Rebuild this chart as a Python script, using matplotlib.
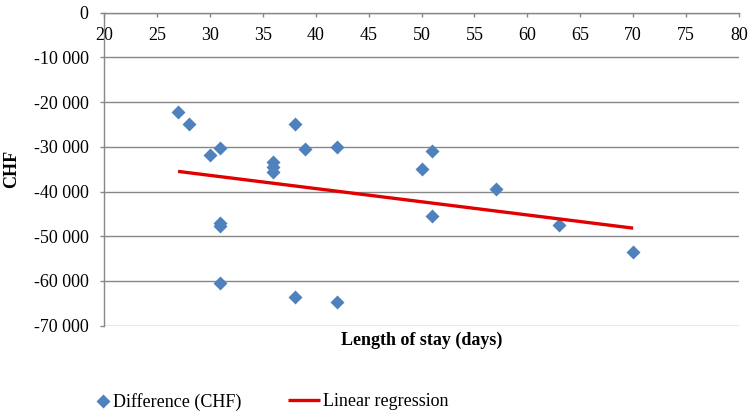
import matplotlib
matplotlib.use("Agg")
import matplotlib.pyplot as plt
from matplotlib.ticker import FuncFormatter

# Data
length_of_stay = [27, 28, 30, 31, 31, 31, 31, 36, 36, 36, 38, 38, 39, 42, 42, 50, 51, 51, 57, 63, 70]
difference_chf = [-22300, -24800, -31800, -30300, -47100, -47800, -60400, -33300, -34600, -35600,
                  -25000, -63500, -30500, -30000, -64700, -34900, -30900, -45500, -39500, -47400, -53600]
regression_x = [27, 70]
regression_y = [-35500, -48200]

x_ticks = list(range(20, 81, 5))
y_ticks = list(range(-70000, 1, 10000))

plt.rcParams['font.family'] = ['Liberation Serif', 'DejaVu Serif']

W, H = 750, 420
fig = plt.figure(figsize=(W / 100, H / 100), dpi=100)
ax = fig.add_axes([104 / W, 1 - 325.6 / H, 635 / W, 312.9 / H])

grey = '#878787'
blue = '#4F81BD'
red = '#E00000'

pts, = ax.plot(length_of_stay, difference_chf, linestyle='none', marker='D', ms=6.8,
               color=blue, mec='none', zorder=3, label='Difference (CHF)')
reg, = ax.plot(regression_x, regression_y, color=red, lw=2.4, zorder=4,
               solid_capstyle='butt', label='Linear regression')

ax.set_xlim(20, 80)
ax.set_ylim(-70000, 0)
ax.set_xticks(x_ticks)
ax.set_yticks(y_ticks)
ax.yaxis.set_major_formatter(FuncFormatter(lambda v, p: f"{int(v):,}".replace(",", " ")))
ax.xaxis.set_major_formatter(FuncFormatter(lambda v, p: f"{int(v)}"))

ax.grid(axis='y', color=grey, lw=1.0, zorder=0)
ax.grid(axis='x', visible=False)
ax.set_axisbelow(True)

ax.spines['top'].set_visible(False)
ax.spines['right'].set_visible(False)
ax.spines['bottom'].set_position(('data', 0))
ax.spines['bottom'].set_color(grey)
ax.spines['left'].set_color(grey)
ax.spines['bottom'].set_linewidth(1.0)
ax.spines['left'].set_linewidth(1.0)

ax.tick_params(axis='x', direction='out', length=3, width=1, color=grey, pad=7,
               labelsize=13, labelcolor='black')
ax.tick_params(axis='y', direction='out', length=3, width=1, color=grey, pad=8,
               labelsize=13, labelcolor='black')

fig.text(12 / W, 1 - 169 / H, 'CHF', rotation=90, fontsize=13, fontweight='bold',
         ha='center', va='center')
fig.text(421.5 / W, 1 - 340 / H, 'Length of stay (days)', fontsize=13, fontweight='bold',
         ha='center', va='center')

fig.legend(handles=[pts], labels=['Difference (CHF)'], loc='center left',
           bbox_to_anchor=(97 / W, 1 - 402 / H), frameon=False, borderpad=0,
           borderaxespad=0, handlelength=0.7, handletextpad=0.2, fontsize=13, numpoints=1)
fig.legend(handles=[reg], labels=['Linear regression'], loc='center left',
           bbox_to_anchor=(288 / W, 1 - 402 / H), frameon=False, borderpad=0,
           borderaxespad=0, handlelength=1.78, handletextpad=0.17, fontsize=13)

fig.savefig('out.png', dpi=100)
